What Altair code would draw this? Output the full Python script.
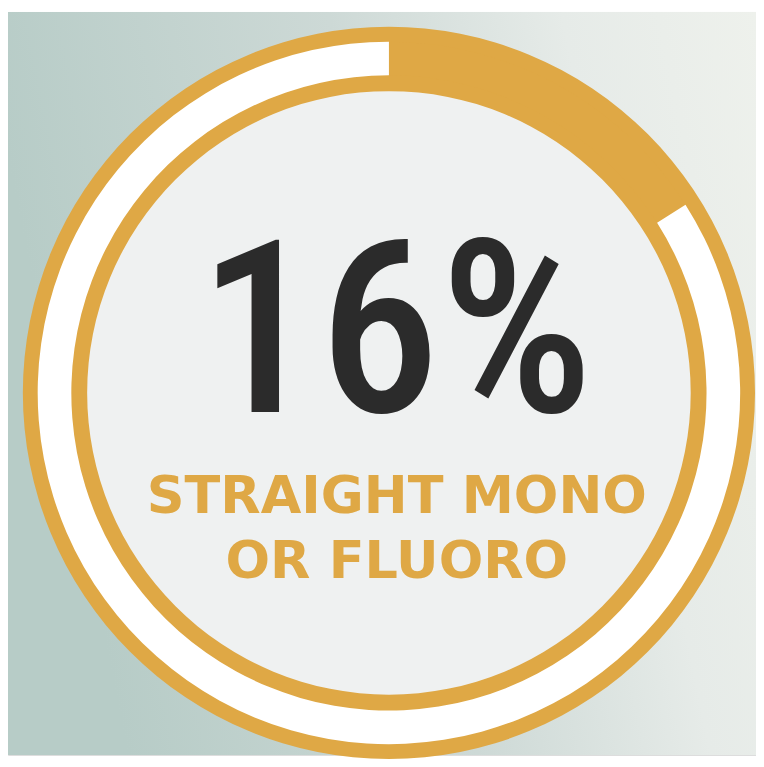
import altair as alt
import pandas as pd

# ---- data ----
segments = ["Straight mono or fluoro", "Other"]
share = [16, 84]
headline = f"{share[0]}%"
label_lines = ["STRAIGHT MONO", "OR FLUORO"]

ORANGE = "#dfa845"
RING_WHITE = "#ffffff"
DISK = "#eff1f1"
DARK = "#2b2b2b"
FULL = 6.283185307

W, H = 756, 751
CX, CY = 385, 385

ring_df = pd.DataFrame({"segment": segments, "share": share, "order": [0, 1]})
one = pd.DataFrame({"v": [1]})

bg = alt.Chart(one).mark_rect(
    color=alt.Gradient(
        gradient="linear",
        stops=[
            alt.GradientStop(color="#b7ccc7", offset=0),
            alt.GradientStop(color="#cdd9d6", offset=0.45),
            alt.GradientStop(color="#e6ebe8", offset=0.75),
            alt.GradientStop(color="#eef1ec", offset=1),
        ],
        x1=0, x2=1, y1=0.2, y2=0,
    )
).encode(x=alt.value(0), x2=alt.value(W), y=alt.value(0), y2=alt.value(H))

outer = alt.Chart(one).mark_arc(
    radius=370, radius2=0, theta=0, theta2=FULL, color=ORANGE
).encode(x=alt.value(CX), y=alt.value(CY))

ring = alt.Chart(ring_df).mark_arc(radius=355, radius2=321).encode(
    theta=alt.Theta("share:Q", stack=True),
    order=alt.Order("order:Q"),
    color=alt.Color(
        "segment:N",
        scale=alt.Scale(domain=segments, range=[ORANGE, RING_WHITE]),
        legend=None,
    ),
    x=alt.value(CX),
    y=alt.value(CY),
)

disk = alt.Chart(one).mark_arc(
    radius=305, radius2=0, theta=0, theta2=FULL, color=DISK
).encode(x=alt.value(CX), y=alt.value(CY))

big = alt.Chart(pd.DataFrame({"t": [headline]})).mark_text(
    font="'Liberation Sans Narrow', 'Arial Narrow', 'Roboto Condensed', 'DejaVu Sans Condensed', sans-serif",
    fontWeight=500,
    fontSize=244,
    color=DARK,
    align="center",
    baseline="alphabetic",
).encode(text="t:N", x=alt.value(392), y=alt.value(404))

lab1 = alt.Chart(pd.DataFrame({"t": [label_lines[0]]})).mark_text(
    font="DejaVu Sans", fontWeight="bold", fontSize=53, color=ORANGE,
    align="center", baseline="alphabetic",
).encode(text="t:N", x=alt.value(393), y=alt.value(506))
lab2 = alt.Chart(pd.DataFrame({"t": [label_lines[1]]})).mark_text(
    font="DejaVu Sans", fontWeight="bold", fontSize=53, color=ORANGE,
    align="center", baseline="alphabetic",
).encode(text="t:N", x=alt.value(393), y=alt.value(572))

chart = alt.layer(bg, outer, ring, disk, big, lab1, lab2).properties(
    width=W, height=H, padding=0, autosize=alt.AutoSizeParams(type="none")
).configure_view(stroke=None).configure(background="#ffffff")

chart.save("out.html", embed_options={"renderer": "svg", "actions": False})
